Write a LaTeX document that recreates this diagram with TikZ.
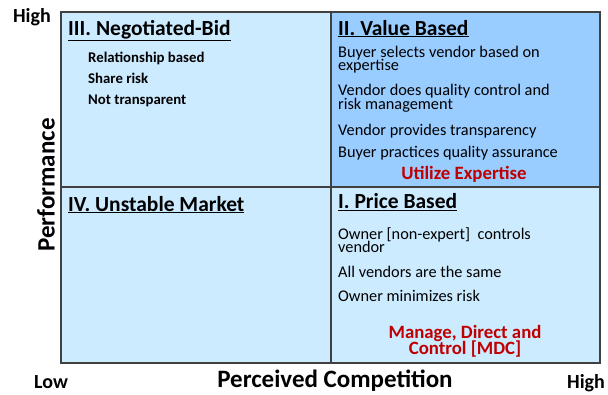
\documentclass[tikz,border=0pt]{standalone}
\usepackage{fontspec}
\setmainfont{Carlito}
\definecolor{lightq}{HTML}{CCEBFF}
\definecolor{darkq}{HTML}{99CCFF}
\definecolor{redq}{HTML}{C00000}
\definecolor{lineq}{HTML}{404040}
\newcommand{\tightlines}{\lineskiplimit=-20pt\relax}
\begin{document}
\begin{tikzpicture}[x=1pt,y=-1pt,
  quad/.style={draw=lineq,line width=1.2pt},
  title/.style={anchor=base west,inner sep=0pt,font=\fontsize{21.5}{24}\selectfont\bfseries},
  bitem/.style={anchor=base west,inner sep=0pt,font=\fontsize{14.8}{16}\selectfont\bfseries},
  item/.style={anchor=base west,inner sep=0pt,align=left,font=\fontsize{16.3}{13.4}\selectfont\tightlines},
  redt/.style={anchor=base,inner sep=0pt,align=center,text=redq,font=\fontsize{18.8}{15.8}\selectfont\bfseries\tightlines},
  axis/.style={inner sep=0pt,font=\fontsize{25}{28}\selectfont\bfseries},
  tick/.style={anchor=base,inner sep=0pt,font=\fontsize{20}{22}\selectfont\bfseries}]
\useasboundingbox (0,0) rectangle (608,394);
\fill[white] (0,0) rectangle (608,394);
\path[quad,fill=lightq] (61,12) rectangle (331,187);
\path[quad,fill=darkq] (331,12) rectangle (600,187);
\path[quad,fill=lightq] (61,187) rectangle (331,363);
\path[quad,fill=lightq] (331,187) rectangle (600,363);
% titles
\node[title] (t3) at (68,35) {\underline{III. Negotiated-Bid}};
\node[title] (t2) at (338,35) {\underline{II. Value Based}};
\node[title] (t4) at (68,211) {\underline{IV. Unstable Market}};
\node[title] (t1) at (338,208.5) {\underline{I. Price Based}};
% quadrant III
\node[bitem] (a1) at (88,62.7) {Relationship based};
\node[bitem] (a2) at (88,83.3) {Share risk};
\node[bitem] (a3) at (88,104.3) {Not transparent};
% quadrant II (base = last line)
\node[item] (b1) at (338,70.8) {Buyer selects vendor based on\\expertise};
\node[item] (b2) at (338,109.3) {Vendor does quality control and\\risk management};
\node[item] (b3) at (338,135) {Vendor provides transparency};
\node[item] (b4) at (338,157.3) {Buyer practices quality assurance};
\node[redt] (b5) at (464,179.3) {Utilize Expertise};
% quadrant I
\node[item] (c1) at (338,252.4) {Owner [non-expert]\ \ controls\\vendor};
\node[item] (c2) at (338,277.7) {All vendors are the same};
\node[item] (c3) at (338,301.7) {Owner minimizes risk};
\node[redt] (c4) at (465,354) {Manage, Direct and\\Control [MDC]};
% axes
\node[axis,rotate=90] (py) at (46,185) {Performance};
\node[axis,anchor=base] (px) at (335,387) {Perceived Competition};
\node[tick] (hy) at (32,22) {High};
\node[tick] (lo) at (51,388) {Low};
\node[tick] (hx) at (586,388) {High};
\end{tikzpicture}
\end{document}
